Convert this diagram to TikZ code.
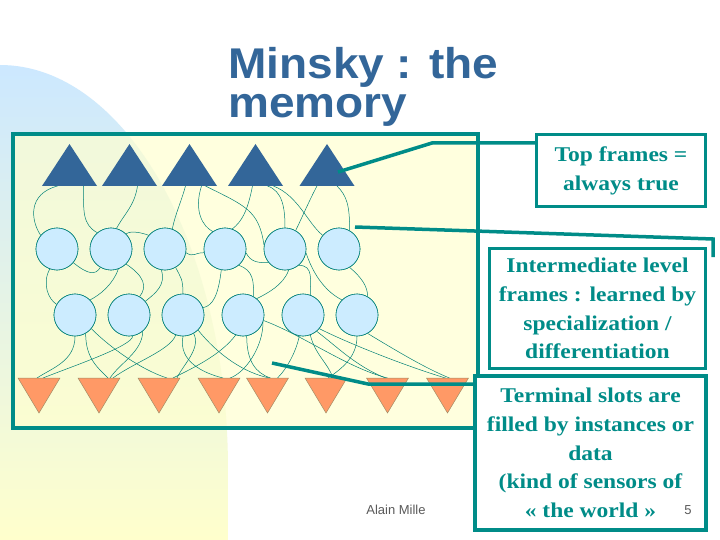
\documentclass[tikz,border=0pt]{standalone}
\usepackage{fontspec}
\setmainfont{Liberation Serif}
\newfontfamily\titlefont{Liberation Sans}[FakeStretch=1.07]
\newfontfamily\boxfont{Liberation Serif}[FakeStretch=1.12]
\newfontfamily\footfont{Liberation Sans}
\definecolor{tealc}{RGB}{0,140,136}
\definecolor{titleblue}{RGB}{51,102,153}
\definecolor{circfill}{RGB}{204,236,255}
\definecolor{orangef}{RGB}{255,153,102}
\definecolor{orangeline}{RGB}{160,140,100}
\definecolor{blobblue}{RGB}{204,232,255}
\definecolor{blobmid}{RGB}{225,245,225}
\definecolor{blobyellow}{RGB}{255,255,204}
\definecolor{framefill}{RGB}{255,255,208}
\definecolor{linkc}{RGB}{0,128,118}
\definecolor{footgray}{RGB}{90,90,90}
\begin{document}
\begin{tikzpicture}[x=1pt,y=-1pt,
  circ/.style={circle, draw=linkc, fill=circfill, line width=0.6pt, minimum size=42pt, inner sep=0pt},
  link/.style={draw=linkc, line width=0.5pt},
  callout/.style={draw=tealc, line width=3.5pt},
  tbox/.style={draw=tealc, line width=3.5pt, fill=white, inner sep=0pt, align=center,
    text=tealc, font=\boxfont\bfseries\fontsize{21}{28.8}\selectfont},
  toptri/.style={fill=titleblue},
  bottri/.style={fill=orangef, draw=orangeline, line width=0.5pt},
  titletext/.style={anchor=base west, inner sep=0pt, text=titleblue, font=\titlefont\bfseries\fontsize{43}{39}\selectfont},
  foot/.style={inner sep=0pt, text=footgray, font=\footfont\fontsize{13}{15}\selectfont}
]
\useasboundingbox (0,0) rectangle (720,540);
\fill[white] (0,0) rectangle (720,540);
% background blob
\shade[top color=blobblue, middle color=blobmid, bottom color=blobyellow]
  (0,540) -- (0,65) .. controls (126,65) and (228,246) .. (228,470) -- (228,540) -- cycle;
% frame fill
\fill[framefill, opacity=0.7] (13,134) rectangle (478,428);

% positions
\foreach \n/\x in {1/69.5,2/129.5,3/189.5,4/255.5,5/327}{\coordinate (ta\n) at (\x,186);}
\foreach \n/\x in {1/39,2/99,3/159,4/219,5/267.5,6/326,7/387.5,8/447.5}{\coordinate (tb\n) at (\x,378);}
\foreach \n/\x in {1/57,2/111,3/165,4/225,5/285,6/339}{\coordinate (pc\n) at (\x,249);}
\foreach \n/\x in {1/75,2/129,3/183,4/243,5/303,6/357}{\coordinate (pd\n) at (\x,315);}
\foreach \n in {1,...,6}{
  \path (pc\n) node[circ] (c\n) {};
  \path (pd\n) node[circ] (d\n) {};
}

% links top -> row 1
\draw[link] ([xshift=-12pt]ta1) .. controls +(-30,8) and +(-10,-15) .. (c1.140);
\draw[link] ([xshift=14pt]ta1) .. controls +(0,25) and +(-15,-8) .. (c2.130);
\draw[link] ([xshift=8pt]ta2) .. controls +(-3,20) and +(8,-15) .. (c2.75);
\draw[link] ([xshift=-4pt]ta3) .. controls +(-4,15) and +(3,-15) .. (c3.70);
\draw[link] ([xshift=12pt]ta3) .. controls +(-8,25) and +(-10,-5) .. (c4.125);
\draw[link] ([xshift=16pt]ta3) .. controls +(40,20) and +(-5,-35) .. (c5.170);
\draw[link] ([xshift=-3pt]ta4) .. controls +(-5,25) and +(10,-8) .. (c4.70);
\draw[link] ([xshift=12pt]ta4) .. controls +(15,5) and +(0,-20) .. (c5.90);
\draw[link] ([xshift=18pt]ta4) .. controls +(25,10) and +(-15,-12) .. (c6.140);
\draw[link] ([xshift=-10pt]ta5) .. controls +(-8,15) and +(5,-10) .. (c5.60);
\draw[link] ([xshift=10pt]ta5) .. controls +(10,10) and +(0,-25) .. (c6.60);
% links row 1 -> row 2
\draw[link] (c1.250) .. controls +(-8,15) and +(-8,-5) .. (d1.150);
\draw[link] (c1.-40) .. controls +(15,12) and +(-5,8) .. (c2.240);
\draw[link] (c2.45) .. controls +(5,-4) and +(-5,-2) .. (c3.140);
\draw[link] (c2.-70) .. controls +(-5,15) and +(10,-5) .. (d1.45);
\draw[link] (c2.-45) .. controls +(18,12) and +(8,-10) .. (d2.60);
\draw[link] (c3.-100) .. controls +(5,15) and +(10,-8) .. (d2.40);
\draw[link] (c3.-60) .. controls +(5,10) and +(0,-15) .. (d3.90);
\draw[link] (c3.-10) .. controls +(8,5) and +(-10,0) .. (c4.190);
\draw[link] (c4.-100) .. controls +(-3,25) and +(10,-2) .. (d3.20);
\draw[link] (c4.-50) .. controls +(15,5) and +(0,-15) .. (d4.60);
\draw[link] (c4.-10) .. controls +(5,10) and +(-10,0) .. (c5.-140);
\draw[link] (c5.-80) .. controls +(-5,15) and +(10,-5) .. (d4.50);
\draw[link] (c5.-50) .. controls +(15,0) and +(0,-15) .. (d5.70);
\draw[link] (c5.-10) .. controls +(10,30) and +(-10,-5) .. (d6.135);
\draw[link] (c6.-60) .. controls +(12,10) and +(0,-10) .. (d6.60);
% links row 2 -> bottom
\draw[link] (d1.-90) .. controls +(0,25) and +(15,-10) .. ([xshift=-2pt]tb1);
\draw[link] (d1.-60) .. controls +(0,25) and +(-10,-10) .. ([xshift=9pt]tb2);
\draw[link] (d1.-40) .. controls +(20,20) and +(-25,-8) .. ([xshift=8pt]tb3);
\draw[link] (d2.-80) .. controls +(0,10) and +(30,-12) .. ([xshift=4pt]tb1);
\draw[link] (d2.-50) .. controls +(0,20) and +(10,-15) .. ([xshift=11pt]tb2);
\draw[link] (d3.-110) .. controls +(-5,15) and +(20,-15) .. ([xshift=14pt]tb2);
\draw[link] (d3.-90) .. controls +(-5,25) and +(-20,-5) .. ([xshift=4pt]tb4);
\draw[link] (d3.-60) .. controls +(8,15) and +(5,-12) .. ([xshift=18pt]tb3);
\draw[link] (d3.-45) .. controls +(20,25) and +(-25,-5) .. ([xshift=2pt]tb5);
\draw[link] (d4.-110) .. controls +(-15,20) and +(20,-10) .. ([xshift=14pt]tb3);
\draw[link] (d4.-80) .. controls +(0,25) and +(-15,-5) .. ([xshift=3pt]tb5);
\draw[link] (d4.-20) .. controls +(0,25) and +(15,-5) .. ([xshift=11pt]tb4);
\draw[link] (d4.-15) .. controls +(40,15) and +(-40,-10) .. (tb7);
\draw[link] (d5.-100) .. controls +(-3,15) and +(10,-10) .. ([xshift=10pt]tb5);
\draw[link] (d5.-70) .. controls +(5,20) and +(-5,-15) .. ([xshift=7pt]tb6);
\draw[link] (d5.-50) .. controls +(20,15) and +(-30,-12) .. ([xshift=-2pt]tb7);
\draw[link] (d5.-40) .. controls +(30,15) and +(-40,-12) .. ([xshift=-2pt]tb8);
\draw[link] (d6.-90) .. controls +(0,20) and +(15,-10) .. ([xshift=2pt]tb6);
\draw[link] (d6.-60) .. controls +(25,15) and +(-25,-10) .. ([xshift=2pt]tb8);

% redraw circles on top
\foreach \n in {1,...,6}{
  \path (pc\n) node[circ] {};
  \path (pd\n) node[circ] {};
}
% triangles
\foreach \n in {1,...,5}{\fill[toptri] (ta\n) ++(-27.5,0) -- ++(55,0) -- ++(-27.5,-42) -- cycle;}
\foreach \n in {1,...,8}{\filldraw[bottri] (tb\n) ++(-21,0) -- ++(42,0) -- ++(-21,35) -- cycle;}

% frame border
\draw[draw=tealc, line width=3.5pt] (13,134) rectangle (478,428);

% boxes
\node[tbox, minimum width=169pt, minimum height=72pt] (box1) at (621,170.5) {Top frames =\\always true};
\node[tbox, minimum width=216pt, minimum height=120pt] (box2) at (597.5,308.5) {Intermediate level\\frames : learned by\\specialization /\\differentiation};
\node[tbox, minimum width=231pt, minimum height=154pt] (box3) at (590.5,453) {Terminal slots are\\filled by instances or\\data\\(kind of sensors of\\« the world »};

% callouts
\coordinate (p1) at (338,172);
\coordinate (k1) at (432,143);
\draw[callout] (p1) -- (k1) -- (k1 -| box1.west);
\coordinate (p2) at (355,227);
\coordinate (k2) at (713,239);
\coordinate (e2) at (713,257);
\draw[callout] (p2) -- (k2) -- (e2);
\coordinate (p3) at (272,363);
\coordinate (k3) at (368,384);
\draw[callout] (p3) -- (k3) -- (k3 -| box3.west);

% title
\node[titletext] (title1) at (228,79) {Minsky : the};
\node[titletext] (title2) at (228,118) {memory};
% footer
\node[foot] (author) at (396,510) {Alain Mille};
\node[foot] (pagenum) at (688,510) {5};
\end{tikzpicture}
\end{document}
